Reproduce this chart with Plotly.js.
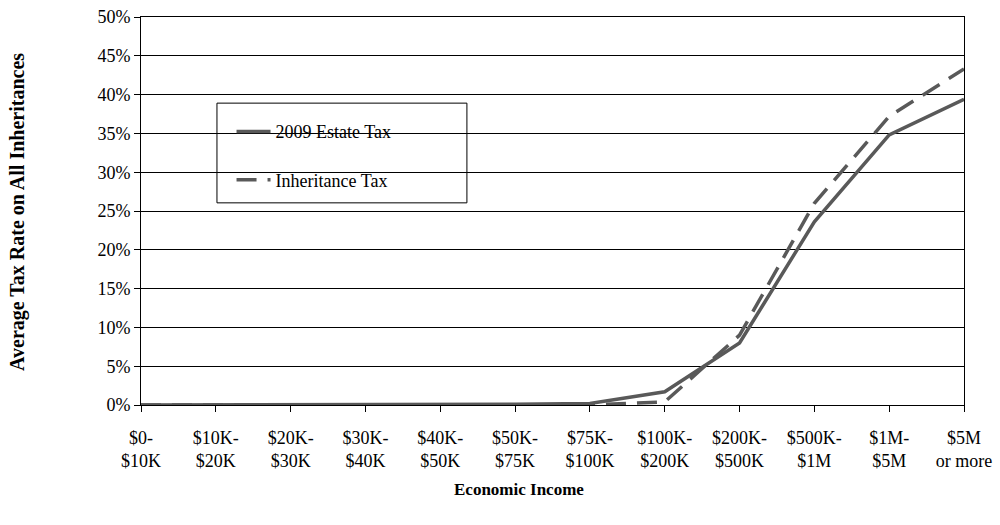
<!DOCTYPE html>
<html><head><meta charset="utf-8">
<script src="https://cdn.plot.ly/plotly-3.0.1.min.js"></script>
<style>body{margin:0;background:#fff}#c{width:1000px;height:525px}</style>
</head><body><div id="c"></div>
<script>
const categories = ["$0-<br>$10K","$10K-<br>$20K","$20K-<br>$30K","$30K-<br>$40K","$40K-<br>$50K","$50K-<br>$75K","$75K-<br>$100K","$100K-<br>$200K","$200K-<br>$500K","$500K-<br>$1M","$1M-<br>$5M","$5M<br>or more"];
const estateTax = [0, 0, 0, 0, 0, 0.1, 0.2, 1.7, 8.0, 23.6, 34.8, 39.4];
const inheritanceTax = [0, 0, 0, 0, 0, 0, 0, 0.4, 9.0, 26.0, 37.2, 43.3];
const yTicks = [0,5,10,15,20,25,30,35,40,45,50];
const yTickText = yTicks.map(v => v + "%");
const xTitle = "Economic Income";
const yTitle = "Average Tax Rate on All Inheritances";

const fam = "Liberation Serif, Times New Roman, serif";
const traces = [
  {x: categories, y: estateTax, name: "2009 Estate Tax", legendgroup: "a", mode: "lines", line: {color: "#595959", width: 3.5}},
  {x: categories, y: inheritanceTax, name: "Inheritance Tax", legendgroup: "b", mode: "lines", line: {color: "#595959", width: 3.5, dash: "20px,11px"}}
];
const layout = {
  width: 1000, height: 525,
  margin: {l: 141, r: 36, t: 17, b: 120},
  paper_bgcolor: "#fff", plot_bgcolor: "#fff",
  font: {family: fam, color: "#000", size: 18},
  showlegend: true,
  legend: {x: 0.11, y: 0.752, xanchor: "left", yanchor: "top", bgcolor: "rgba(0,0,0,0)", borderwidth: 0,
           traceorder: "grouped", tracegroupgap: 22, itemwidth: 34,
           font: {family: fam, size: 18, color: "#000"}},
  shapes: [{type: "rect", xref: "paper", yref: "paper", x0: 0.0923, x1: 0.396, y0: 0.521, y1: 0.778,
            line: {color: "#000", width: 1}, fillcolor: "#fff", layer: "below"}],
  annotations: [
    {text: "<b>" + xTitle + "</b>", xref: "paper", yref: "paper", x: 0.459, y: -0.219, xanchor: "center", yanchor: "middle",
     showarrow: false, font: {family: fam, size: 17, color: "#000"}},
    {text: "<b>" + yTitle + "</b>", xref: "paper", yref: "paper", x: -0.151, y: 0.497, xanchor: "center", yanchor: "middle",
     textangle: -90, showarrow: false, font: {family: fam, size: 20, color: "#000"}}
  ],
  xaxis: {type: "category", range: [0, 11], showgrid: false, showline: true, linecolor: "#000", linewidth: 1,
          ticks: "outside", ticklen: 6, tickcolor: "#000", tickangle: 0, mirror: true, ticklabelstandoff: 10,
          tickfont: {family: fam, size: 18, color: "#000"}},
  yaxis: {range: [0, 50], tickvals: yTicks, ticktext: yTickText, showgrid: true, gridcolor: "#000", gridwidth: 1,
          showline: true, linecolor: "#000", linewidth: 1, mirror: true, ticks: "outside", ticklen: 6, tickcolor: "#000",
          zeroline: false,
          tickfont: {family: fam, size: 18, color: "#000"}}
};
Plotly.newPlot("c", traces, layout, {displayModeBar: false, staticPlot: true});
</script></body></html>
